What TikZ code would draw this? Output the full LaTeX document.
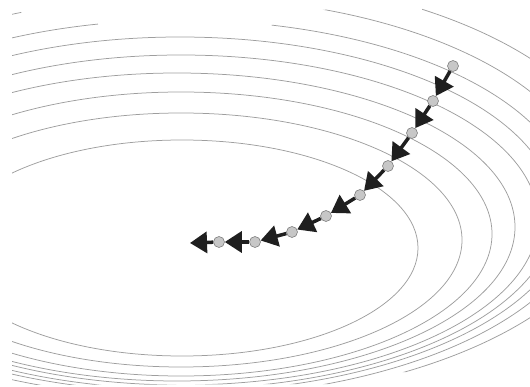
\documentclass[tikz,border=0pt]{standalone}
\usetikzlibrary{arrows.meta}
\begin{document}
\begin{tikzpicture}[x=1pt,y=-1pt,
  contour/.style={draw=black!38, line width=0.75pt},
  dot/.style={circle, draw=black!50, fill=black!22, line width=0.6pt, minimum size=11pt, inner sep=0pt},
  stepar/.style={draw=black!88, line width=3.5pt, -{Triangle[length=17pt,width=21pt]}},
]
\useasboundingbox (0,0) rectangle (530,387);
\begin{scope}
\clip (12,8) -- (20,8) -- (24,22) -- (95,14) -- (100,31) -- (270,31) -- (275,14) -- (346,8) -- (350,4) -- (400,12) -- (421,18) -- (424,-5) -- (535,-5) -- (535,392) -- (425,392) -- (422,372) -- (390,372) -- (340,384) -- (12,385) -- cycle;
\foreach \cx/\cy/\ra/\rb in {182/248/236/108, 181/240/281/127, 181/234/311/142, 177/227/338/154, 181/220/357/165, 180/213/375/176, 180/206/392/186, 180/197/412/200, 180/188/440/214}
  \draw[contour] (\cx,\cy) ellipse [x radius=\ra pt, y radius=\rb pt];
\end{scope}
\node[dot] (p1) at (453,66) {};
\node[dot] (p2) at (433,101) {};
\node[dot] (p3) at (412,133) {};
\node[dot] (p4) at (388,166) {};
\node[dot] (p5) at (360,195) {};
\node[dot] (p6) at (326,216) {};
\node[dot] (p7) at (292,232) {};
\node[dot] (p8) at (255,242) {};
\node[dot] (p9) at (219,242) {};
\coordinate (pend) at (190,243);
\draw[stepar] (p1) -- (p2);
\draw[stepar] (p2) -- (p3);
\draw[stepar] (p3) -- (p4);
\draw[stepar] (p4) -- (p5);
\draw[stepar] (p5) -- (p6);
\draw[stepar] (p6) -- (p7);
\draw[stepar] (p7) -- (p8);
\draw[stepar] (p8) -- (p9);
\draw[stepar] (p9) -- (pend);
\end{tikzpicture}
\end{document}
